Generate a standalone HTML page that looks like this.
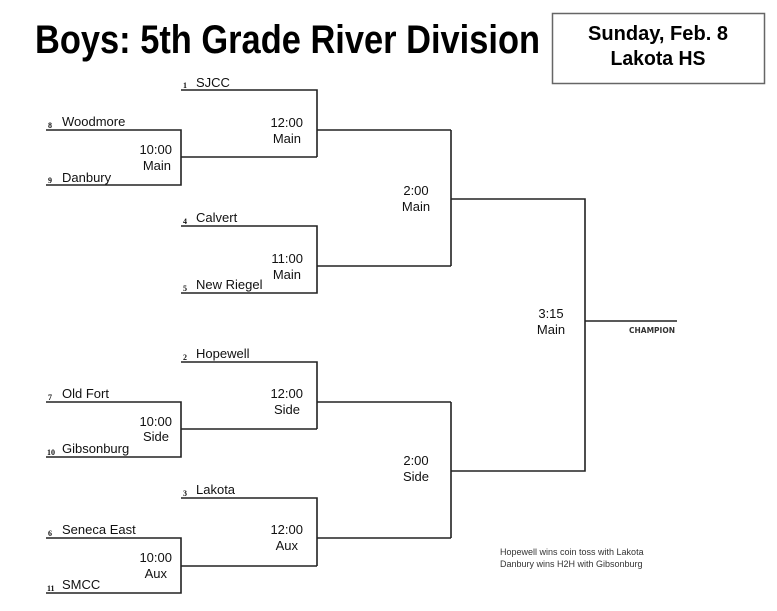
<!DOCTYPE html>
<html><head><meta charset="utf-8"><style>
html,body{margin:0;padding:0;background:#fff;}
svg{display:block;}
.t{font-family:"Liberation Sans",Arial,sans-serif;font-size:13px;fill:#111;}
.s{font-family:"Liberation Serif",serif;font-size:8px;font-weight:bold;fill:#111;}
.h{font-family:"Liberation Sans",sans-serif;font-weight:bold;fill:#000;}
</style></head><body>
<svg width="777" height="611" viewBox="0 0 777 611" xmlns="http://www.w3.org/2000/svg">
<text class="h" x="35" y="53" font-size="40" textLength="505" lengthAdjust="spacingAndGlyphs">Boys: 5th Grade River Division</text>
<rect x="552.5" y="13.5" width="212" height="70" fill="none" stroke="#666" stroke-width="1.5"/>
<text class="h" x="658" y="40" font-size="20" text-anchor="middle" textLength="140" lengthAdjust="spacingAndGlyphs">Sunday, Feb. 8</text>
<text class="h" x="658" y="65" font-size="20" text-anchor="middle" textLength="95" lengthAdjust="spacingAndGlyphs">Lakota HS</text>

<g stroke="#222" stroke-width="1.6" fill="none">
<!-- top quarter -->
<polyline points="46,130 181,130 181,185 46,185"/>
<polyline points="181,157 317,157"/>
<polyline points="181,90 317,90 317,157"/>
<polyline points="317,130 451,130"/>
<polyline points="181,226 317,226 317,293 181,293"/>
<polyline points="317,266 451,266"/>
<polyline points="451,130 451,266"/>
<polyline points="451,199 585,199 585,471 451,471"/>
<polyline points="585,321 677,321"/>
<!-- bottom -->
<polyline points="46,402 181,402 181,457 46,457"/>
<polyline points="181,429 317,429"/>
<polyline points="181,362 317,362 317,429"/>
<polyline points="317,402 451,402"/>
<polyline points="46,538 181,538 181,593 46,593"/>
<polyline points="181,566 317,566"/>
<polyline points="181,498 317,498 317,566"/>
<polyline points="317,538 451,538"/>
<polyline points="451,402 451,538"/>
</g>

<g class="t">
<text x="196" y="87">SJCC</text>
<text x="62" y="126">Woodmore</text>
<text x="62" y="182">Danbury</text>
<text x="196" y="222">Calvert</text>
<text x="196" y="289">New Riegel</text>
<text x="196" y="358">Hopewell</text>
<text x="62" y="398">Old Fort</text>
<text x="62" y="453">Gibsonburg</text>
<text x="196" y="494">Lakota</text>
<text x="62" y="534">Seneca East</text>
<text x="62" y="589">SMCC</text>
</g>
<g class="s">
<text x="183" y="88">1</text>
<text x="48" y="128">8</text>
<text x="48" y="183">9</text>
<text x="183" y="224">4</text>
<text x="183" y="291">5</text>
<text x="183" y="360">2</text>
<text x="48" y="400">7</text>
<text x="47" y="455">10</text>
<text x="183" y="496">3</text>
<text x="48" y="536">6</text>
<text x="47" y="591">11</text>
</g>
<g class="t" text-anchor="end">
<text x="303" y="127">12:00</text><text x="301" y="143">Main</text>
<text x="172" y="154">10:00</text><text x="171" y="170">Main</text>
<text x="303" y="263">11:00</text><text x="301" y="279">Main</text>
<text x="303" y="398">12:00</text><text x="300" y="414">Side</text>
<text x="172" y="426">10:00</text><text x="169" y="441">Side</text>
<text x="303" y="534">12:00</text><text x="298" y="550">Aux</text>
<text x="172" y="562">10:00</text><text x="167" y="578">Aux</text>
</g>
<g class="t" text-anchor="middle">
<text x="416" y="195">2:00</text><text x="416" y="211">Main</text>
<text x="416" y="465">2:00</text><text x="416" y="481">Side</text>
<text x="551" y="318">3:15</text><text x="551" y="334">Main</text>
</g>
<text x="652" y="333" font-family="'DejaVu Sans',sans-serif" font-size="7.5" font-weight="bold" fill="#333" text-anchor="middle">CHAMPION</text>
<text x="500" y="555" font-family="'Liberation Sans',sans-serif" font-size="9" fill="#333">Hopewell wins coin toss with Lakota</text>
<text x="500" y="567" font-family="'Liberation Sans',sans-serif" font-size="9" fill="#333">Danbury wins H2H with Gibsonburg</text>
</svg>
</body></html>
